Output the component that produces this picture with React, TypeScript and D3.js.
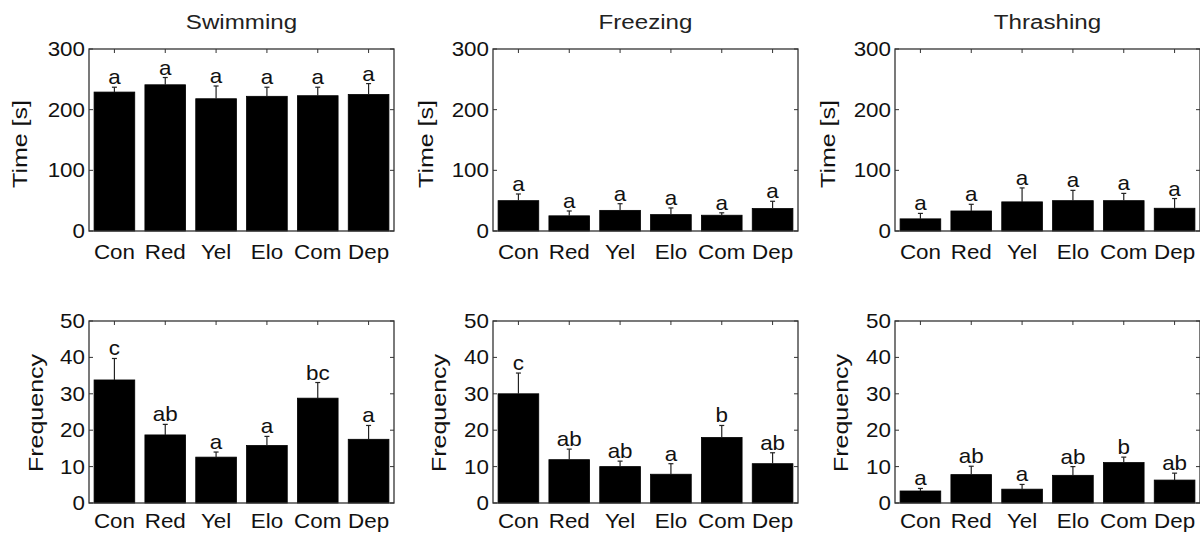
import React from "react";
import * as d3 from "d3";

const groups = ["Con", "Red", "Yel", "Elo", "Com", "Dep"];

// time [s] panels: bar means and top of the error bars
const swimTime = [229, 241, 218, 222, 223, 225];
const swimTimeErr = [237, 253, 239, 237, 237, 243];
const freezeTime = [50, 25, 34, 27, 26, 37];
const freezeTimeErr = [61, 33, 45, 38, 30, 49];
const thrashTime = [20, 33, 48, 50, 50, 37.5];
const thrashTimeErr = [29, 44, 71, 67, 62, 53.5];

// frequency panels
const swimFreq = [33.8, 18.7, 12.6, 15.8, 28.8, 17.5];
const swimFreqErr = [39.7, 21.6, 14.0, 18.3, 33.1, 21.3];
const freezeFreq = [30.0, 11.9, 10.0, 7.9, 18.0, 10.8];
const freezeFreqErr = [35.7, 14.8, 11.5, 10.8, 21.3, 13.8];
const thrashFreq = [3.3, 7.8, 3.8, 7.6, 11.1, 6.3];
const thrashFreqErr = [4.0, 10.1, 5.1, 10.0, 12.6, 8.2];

// significance letters
const swimTimeSig = ["a", "a", "a", "a", "a", "a"];
const freezeTimeSig = ["a", "a", "a", "a", "a", "a"];
const thrashTimeSig = ["a", "a", "a", "a", "a", "a"];
const swimFreqSig = ["c", "ab", "a", "a", "bc", "a"];
const freezeFreqSig = ["c", "ab", "ab", "a", "b", "ab"];
const thrashFreqSig = ["a", "ab", "a", "ab", "b", "ab"];

const timeTicks = [0, 100, 200, 300];
const freqTicks = [0, 10, 20, 30, 40, 50];

const FONT = "'Liberation Sans', Arial, Helvetica, sans-serif";

// text with the slightly wide glyphs of the original figure
const Label = ({ x, y, size, sx = 1.12, anchor = "middle", rotate = 0, fill = "#111", children }: any) => (
  <text
    transform={`translate(${x},${y})${rotate ? ` rotate(${rotate})` : ""} scale(${sx},1)`}
    textAnchor={anchor}
    fontSize={size}
    fill={fill}
  >
    {children}
  </text>
);

type PanelProps = {
  left: number;
  top: number;
  width: number;
  height: number;
  values: number[];
  errTops: number[];
  sig: string[];
  ticks: number[];
  ylabel: string;
  ylabelX: number;
  ylabelShift: number;
  xlabelY: number;
  title?: string;
};

const Panel = ({ left, top, width, height, values, errTops, sig, ticks, ylabel, ylabelX, ylabelShift, xlabelY, title }: PanelProps) => {
  const x = d3.scaleBand().domain(groups).range([0, width]).paddingInner(0.2).paddingOuter(0.1);
  const y = d3.scaleLinear().domain([0, ticks[ticks.length - 1]]).range([height, 0]);
  const tickLen = 4;
  const axisColor = "#333";

  return (
    <g transform={`translate(${left},${top})`} fontFamily={FONT}>
      {title && (
        <Label x={width / 2} y={-20} size={21} sx={1.15} fill="#222">
          {title}
        </Label>
      )}

      {values.map((v, i) => {
        const cx = x(groups[i])! + x.bandwidth() / 2;
        return (
          <g key={groups[i]}>
            <rect
              x={x(groups[i])}
              y={y(v)}
              width={x.bandwidth()}
              height={height - y(v)}
              fill="#000"
              stroke="#000"
              strokeWidth={0.8}
            />
            <line x1={cx} x2={cx} y1={y(v)} y2={y(errTops[i])} stroke="#222" strokeWidth={1.2} />
            <line x1={cx - 2.5} x2={cx + 2.5} y1={y(errTops[i])} y2={y(errTops[i])} stroke="#222" strokeWidth={1.2} />
            <Label x={cx} y={y(errTops[i]) - 3} size={20}>
              {sig[i]}
            </Label>
          </g>
        );
      })}

      {/* box */}
      <rect x={0} y={0} width={width} height={height} fill="none" stroke={axisColor} strokeWidth={1.3} />

      {/* y ticks, inward on both sides */}
      {ticks.map((t) => (
        <g key={t}>
          <line x1={0} x2={tickLen} y1={y(t)} y2={y(t)} stroke={axisColor} strokeWidth={1} />
          <line x1={width - tickLen} x2={width} y1={y(t)} y2={y(t)} stroke={axisColor} strokeWidth={1} />
          <Label x={-4} y={y(t) + 7} size={20} anchor="end">
            {t}
          </Label>
        </g>
      ))}

      {/* x ticks on top, labels below */}
      {groups.map((g) => {
        const cx = x(g)! + x.bandwidth() / 2;
        return (
          <g key={g}>
            <line x1={cx} x2={cx} y1={0} y2={tickLen} stroke={axisColor} strokeWidth={1} />
            <Label x={cx} y={height + xlabelY} size={20}>
              {g}
            </Label>
          </g>
        );
      })}

      <Label x={ylabelX} y={height / 2 + ylabelShift} size={20} sx={1.25} rotate={-90}>
        {ylabel}
      </Label>
    </g>
  );
};

export default function App() {
  const W = 305;
  const H = 182;
  const lefts = [89, 493, 895];
  const topRow = 49;
  const bottomRow = 321;

  return (
    <svg
      width={1200}
      height={534}
      style={{ position: "absolute", left: 0, top: 0, background: "#fff" }}
    >
      <Panel left={lefts[0]} top={topRow} width={W} height={H} values={swimTime} errTops={swimTimeErr} sig={swimTimeSig} ticks={timeTicks} ylabel="Time [s]" ylabelX={-62} ylabelShift={4} xlabelY={28} title="Swimming" />
      <Panel left={lefts[1]} top={topRow} width={W} height={H} values={freezeTime} errTops={freezeTimeErr} sig={freezeTimeSig} ticks={timeTicks} ylabel="Time [s]" ylabelX={-60} ylabelShift={4} xlabelY={28} title="Freezing" />
      <Panel left={lefts[2]} top={topRow} width={W} height={H} values={thrashTime} errTops={thrashTimeErr} sig={thrashTimeSig} ticks={timeTicks} ylabel="Time [s]" ylabelX={-60} ylabelShift={4} xlabelY={28} title="Thrashing" />
      <Panel left={lefts[0]} top={bottomRow} width={W} height={H} values={swimFreq} errTops={swimFreqErr} sig={swimFreqSig} ticks={freqTicks} ylabel="Frequency" ylabelX={-46} ylabelShift={1} xlabelY={25} />
      <Panel left={lefts[1]} top={bottomRow} width={W} height={H} values={freezeFreq} errTops={freezeFreqErr} sig={freezeFreqSig} ticks={freqTicks} ylabel="Frequency" ylabelX={-47} ylabelShift={1} xlabelY={25} />
      <Panel left={lefts[2]} top={bottomRow} width={W} height={H} values={thrashFreq} errTops={thrashFreqErr} sig={thrashFreqSig} ticks={freqTicks} ylabel="Frequency" ylabelX={-47} ylabelShift={1} xlabelY={25} />
    </svg>
  );
}
